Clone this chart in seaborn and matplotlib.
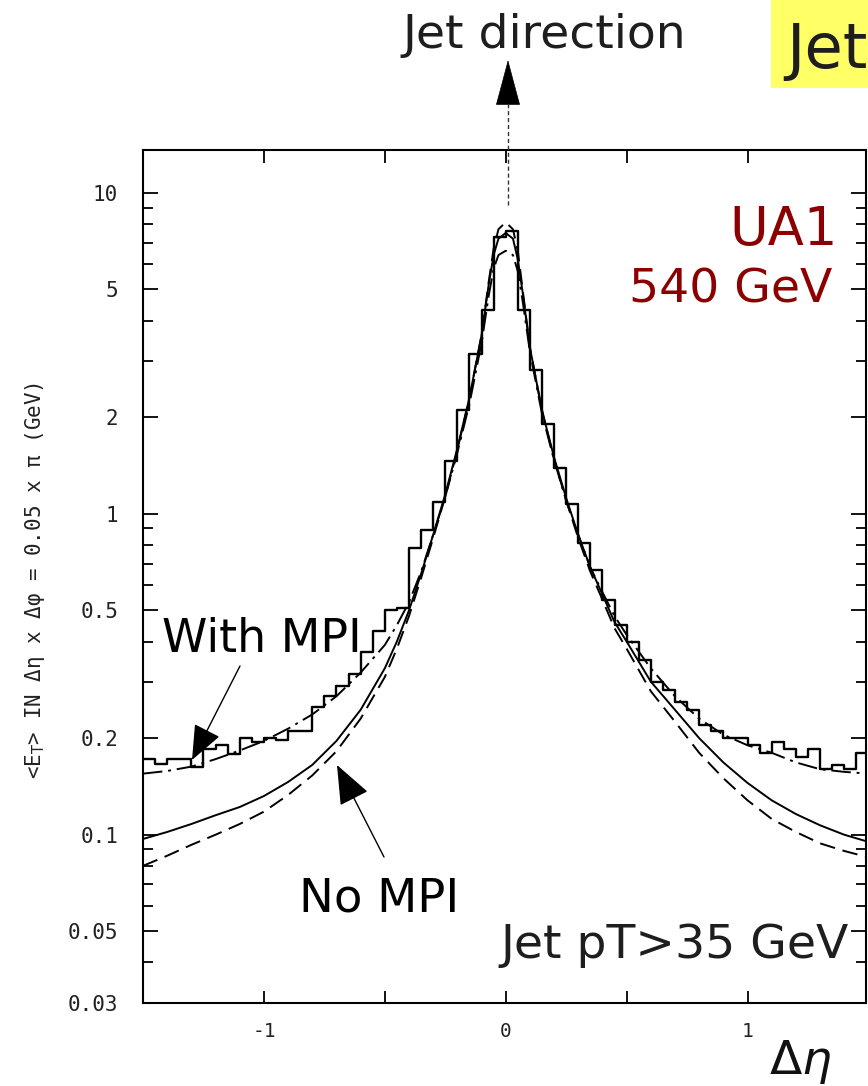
import numpy as np
import pandas as pd
import matplotlib
matplotlib.use("Agg")
import matplotlib.pyplot as plt
import seaborn as sns
from matplotlib.patches import FancyArrowPatch, Rectangle
from matplotlib.lines import Line2D
from matplotlib.ticker import FixedLocator, LogLocator, NullFormatter

# ---------------- data ----------------
bin_edges = np.round(np.arange(-1.5, 1.5001, 0.05), 3)
hist_values = [0.172, 0.166, 0.172, 0.172, 0.163, 0.185, 0.19, 0.178, 0.20, 0.195,
               0.20, 0.198, 0.21, 0.21, 0.25, 0.27, 0.29, 0.317, 0.37, 0.43,
               0.50, 0.51, 0.78, 0.89, 1.09, 1.46, 2.1, 3.15, 4.3, 7.3,
               7.6, 4.3, 2.8, 1.9, 1.39, 1.07, 0.81, 0.67, 0.54, 0.45,
               0.40, 0.35, 0.30, 0.283, 0.26, 0.245, 0.22, 0.21, 0.20, 0.20,
               0.19, 0.18, 0.195, 0.185, 0.175, 0.185, 0.16, 0.165, 0.16, 0.18]

eta = [-1.5, -1.4, -1.3, -1.2, -1.1, -1.0, -0.9, -0.8, -0.7, -0.6, -0.5, -0.45, -0.4,
       -0.35, -0.3, -0.25, -0.2, -0.15, -0.1, -0.07, -0.05, -0.03, 0.0, 0.03, 0.05,
       0.07, 0.1, 0.15, 0.2, 0.25, 0.3, 0.35, 0.4, 0.45, 0.5, 0.6, 0.7, 0.8, 0.9,
       1.0, 1.1, 1.2, 1.3, 1.4, 1.5]

mpi_curve = [0.155, 0.158, 0.163, 0.172, 0.183, 0.196, 0.214, 0.237, 0.27, 0.32, 0.39,
             0.45, 0.53, 0.66, 0.86, 1.13, 1.55, 2.2, 3.4, 4.8, 5.8, 6.4, 6.6, 6.4, 5.7,
             4.6, 3.2, 2.05, 1.47, 1.1, 0.86, 0.68, 0.57, 0.48, 0.42, 0.33, 0.27, 0.23,
             0.205, 0.19, 0.18, 0.168, 0.16, 0.157, 0.155]

nompi_solid = [0.097, 0.102, 0.108, 0.115, 0.122, 0.132, 0.146, 0.165, 0.196, 0.245, 0.33,
               0.40, 0.5, 0.65, 0.86, 1.15, 1.6, 2.3, 3.6, 5.2, 6.4, 7.2, 7.5, 7.2, 6.2,
               4.9, 3.3, 2.1, 1.5, 1.12, 0.86, 0.68, 0.56, 0.46, 0.40, 0.30, 0.245, 0.2,
               0.168, 0.145, 0.128, 0.116, 0.107, 0.10, 0.095]

nompi_dashed = [0.08, 0.086, 0.093, 0.10, 0.108, 0.118, 0.133, 0.153, 0.182, 0.23, 0.31,
                0.38, 0.48, 0.63, 0.84, 1.13, 1.58, 2.3, 3.6, 5.3, 6.7, 7.7, 8.1, 7.7, 6.6,
                5.0, 3.3, 2.1, 1.48, 1.1, 0.84, 0.66, 0.54, 0.44, 0.38, 0.28, 0.225, 0.18,
                0.15, 0.128, 0.112, 0.102, 0.094, 0.089, 0.085]

ytick_vals = [0.03, 0.05, 0.1, 0.2, 0.5, 1, 2, 5, 10]
ytick_labels = ["0.03", "0.05", "0.1", "0.2", "0.5", "1", "2", "5", "10"]
xtick_vals = [-1, 0, 1]
xtick_labels = ["-1", "0", "1"]

# step table built from the histogram values
hist_df = pd.DataFrame({"eta": bin_edges, "val": hist_values + [hist_values[-1]]})
curves_df = pd.DataFrame({"eta": eta, "mpi": mpi_curve, "solid": nompi_solid,
                          "dashed": nompi_dashed})

# ---------------- figure ----------------
sns.set_theme(style="white")
plt.rcParams["font.family"] = ["DejaVu Sans"]
W, H = 868, 1086
fig = plt.figure(figsize=(W / 100, H / 100), dpi=100)
fig.patch.set_facecolor("white")

def fx(x):
    return x / W

def fy(y):
    return 1 - y / H

ax = fig.add_axes([fx(143), fy(1003), (866 - 143) / W, (1003 - 150) / H])
ax.set_facecolor("white")
ax.set_yscale("log")

lw_curve = 1.4
sns.lineplot(data=hist_df, x="eta", y="val", ax=ax, color="black", lw=1.7,
             drawstyle="steps-post", estimator=None, sort=False)
sns.lineplot(data=curves_df, x="eta", y="mpi", ax=ax, color="black", lw=lw_curve,
             linestyle=(0, (10, 3, 1.5, 3)), estimator=None, sort=False)
sns.lineplot(data=curves_df, x="eta", y="solid", ax=ax, color="black", lw=lw_curve,
             linestyle="-", estimator=None, sort=False)
sns.lineplot(data=curves_df, x="eta", y="dashed", ax=ax, color="black", lw=lw_curve,
             linestyle=(0, (8, 4)), estimator=None, sort=False)

ax.set_xlim(-1.5, 1.49)
ax.set_ylim(0.0299, 13.6)
ax.set_xlabel("")
ax.set_ylabel("")

for s in ax.spines.values():
    s.set_visible(True)
    s.set_color("black")
    s.set_linewidth(1.5)

ax.yaxis.set_major_locator(FixedLocator(ytick_vals))
ax.set_yticklabels(ytick_labels)
ax.yaxis.set_minor_locator(LogLocator(base=10, subs=np.arange(2, 10)))
ax.yaxis.set_minor_formatter(NullFormatter())
ax.set_xticks(xtick_vals)
ax.set_xticklabels(xtick_labels)
ax.xaxis.set_minor_locator(FixedLocator([-1.5, -0.5, 0.5, 1.5]))

ax.tick_params(axis="both", which="both", direction="in", top=True, right=True,
               bottom=True, left=True, color="black", width=1.3)
ax.tick_params(axis="y", which="major", length=11, labelsize=15, pad=18)
ax.tick_params(axis="y", which="minor", length=7)
ax.tick_params(axis="x", which="major", length=9, labelsize=14, pad=14)
ax.tick_params(axis="x", which="minor", length=9)
for lab in ax.get_yticklabels() + ax.get_xticklabels():
    lab.set_family("DejaVu Sans Mono")
    lab.set_color("#222222")

# y label
fig.text(fx(35), fy(580), "<E$_{\\rm T}$> IN Δη x Δφ = 0.05 x π (GeV)",
         rotation=90, ha="center", va="center", fontsize=15,
         family="DejaVu Sans Mono", color="#222222")

# Δη axis label
fig.text(fx(800), fy(1062), r"$\Delta\eta$", ha="center", va="center",
         fontsize=34, color="#111111")

# Jet direction
fig.text(fx(402), fy(48), "Jet direction", ha="left", va="baseline",
         fontsize=34, color="#1e1e1e")
fig.add_artist(Line2D([fx(508), fx(508)], [fy(205), fy(102)], color="#333333",
                      lw=1.0, linestyle=(0, (3, 2))))
fig.add_artist(FancyArrowPatch((fx(508), fy(104)), (fx(508), fy(60)),
                               transform=fig.transFigure,
                               arrowstyle="-|>,head_length=3.1,head_width=0.83",
                               mutation_scale=10, color="black", lw=0.5,
                               shrinkA=0, shrinkB=0))

# yellow title box (cut at right edge)
fig.add_artist(Rectangle((fx(771), fy(88)), (W - 771) / W, 88 / H,
                         transform=fig.transFigure, facecolor="#ffff66",
                         edgecolor="none", zorder=0))
fig.text(fx(786), fy(68), "Jet", ha="left", va="baseline", fontsize=45,
         color="#1e1e1e", zorder=2)

# UA1 540 GeV
fig.text(fx(838), fy(245), "UA1", ha="right", va="baseline", fontsize=38,
         color="#8b0000")
fig.text(fx(832), fy(302), "540 GeV", ha="right", va="baseline", fontsize=34,
         color="#8b0000")

# With MPI
fig.text(fx(162), fy(652), "With MPI", ha="left", va="baseline", fontsize=33,
         color="black")
fig.add_artist(FancyArrowPatch((fx(240), fy(666)), (fx(192), fy(760)),
                               transform=fig.transFigure,
                               arrowstyle="-|>,head_length=2.2,head_width=0.9",
                               mutation_scale=10, color="black", lw=1.0,
                               shrinkA=0, shrinkB=0))

# No MPI
fig.text(fx(299), fy(912), "No MPI", ha="left", va="baseline", fontsize=33.5,
         color="black")
fig.add_artist(FancyArrowPatch((fx(384), fy(857)), (fx(337), fy(765)),
                               transform=fig.transFigure,
                               arrowstyle="-|>,head_length=2.5,head_width=1.0",
                               mutation_scale=10, color="black", lw=1.0,
                               shrinkA=0, shrinkB=0))

# Jet pT > 35 GeV
fig.text(fx(849), fy(958), "Jet pT>35 GeV", ha="right", va="baseline",
         fontsize=34, color="#1e1e1e")

fig.savefig("out.png", dpi=100, facecolor="white")
